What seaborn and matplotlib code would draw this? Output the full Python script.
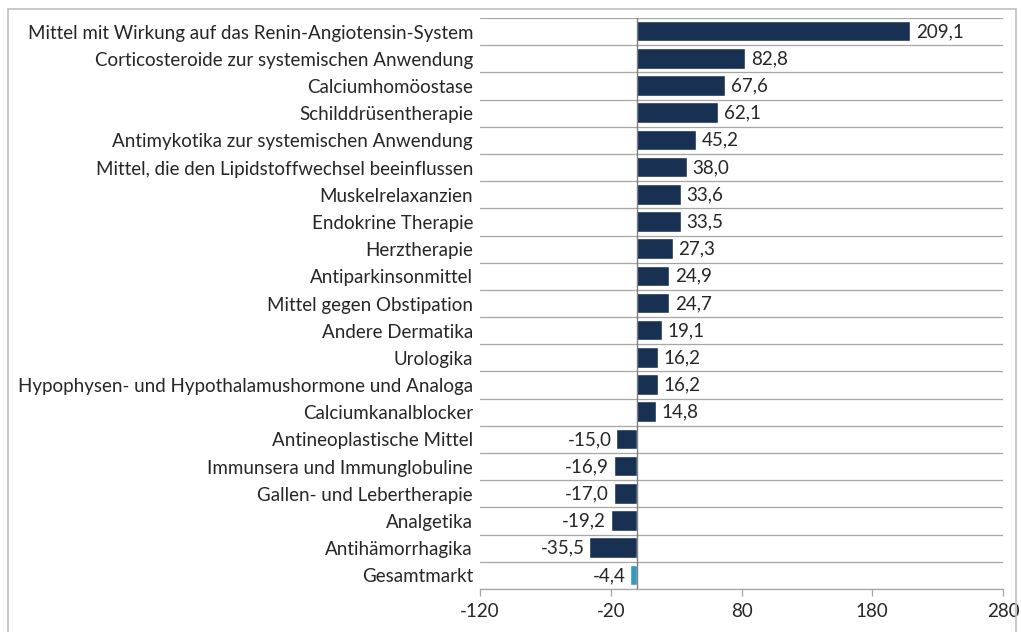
import numpy as np
import pandas as pd
import seaborn as sns
import matplotlib.pyplot as plt
from matplotlib.patches import Rectangle

categories = [
    "Mittel mit Wirkung auf das Renin-Angiotensin-System",
    "Corticosteroide zur systemischen Anwendung",
    "Calciumhomöostase",
    "Schilddrüsentherapie",
    "Antimykotika zur systemischen Anwendung",
    "Mittel, die den Lipidstoffwechsel beeinflussen",
    "Muskelrelaxanzien",
    "Endokrine Therapie",
    "Herztherapie",
    "Antiparkinsonmittel",
    "Mittel gegen Obstipation",
    "Andere Dermatika",
    "Urologika",
    "Hypophysen- und Hypothalamushormone und Analoga",
    "Calciumkanalblocker",
    "Antineoplastische Mittel",
    "Immunsera und Immunglobuline",
    "Gallen- und Lebertherapie",
    "Analgetika",
    "Antihämorrhagika",
    "Gesamtmarkt",
]
values = [209.1, 82.8, 67.6, 62.1, 45.2, 38.0, 33.6, 33.5, 27.3, 24.9, 24.7,
          19.1, 16.2, 16.2, 14.8, -15.0, -16.9, -17.0, -19.2, -35.5, -4.4]
x_ticks = [-120, -20, 80, 180, 280]

navy = "#0E2F5C"
light = "#1BA3D9"
colors = [navy] * (len(categories) - 1) + [light]

df = pd.DataFrame({"kategorie": categories, "wert": values})

sns.set_style("white")
plt.rcParams["font.family"] = ["Lato", "DejaVu Sans"]
fs = 13.5

fig = plt.figure(figsize=(10.21, 6.32), dpi=100)
ax = fig.add_axes([480 / 1021, 1 - 589 / 632, 523 / 1021, 571 / 632])

# Rahmen um das ganze Diagramm
fig.patches.append(Rectangle((8 / 1021, -0.01), 1008 / 1021, 1 - 9 / 632 + 0.01,
                             transform=fig.transFigure, fill=False,
                             edgecolor="#BFBFBF", linewidth=1.2))

sns.barplot(data=df, x="wert", y="kategorie", hue="kategorie", palette=colors,
            legend=False, orient="h", width=0.72, ax=ax,
            edgecolor="white", linewidth=0.3)

ax.set_xlim(-120, 280)
ax.set_ylim(len(categories) - 0.5, -0.5)
ax.set_xticks(x_ticks)
ax.set_xticklabels([str(t) for t in x_ticks])
ax.set_xlabel("")
ax.set_ylabel("")

# horizontale Trennlinien zwischen den Kategorien
for b in np.arange(-0.5, len(categories), 1.0):
    ax.axhline(b, color="#A6A6A6", linewidth=0.9, zorder=0)
ax.axvline(0, color="#808080", linewidth=1.0, zorder=3)

for side in ["top", "right", "left"]:
    ax.spines[side].set_visible(False)
ax.spines["bottom"].set_color("#A6A6A6")
ax.spines["bottom"].set_linewidth(0.9)

ax.tick_params(axis="x", length=5, color="#A6A6A6", width=0.9,
               labelsize=fs, pad=5, bottom=True)
ax.tick_params(axis="y", length=0, labelsize=fs, pad=5)

for cont in ax.containers:
    labels = [f"{v:.1f}".replace(".", ",") for v in cont.datavalues]
    ax.bar_label(cont, labels=labels, padding=4, fontsize=fs)

fig.savefig("out.png", dpi=100)
